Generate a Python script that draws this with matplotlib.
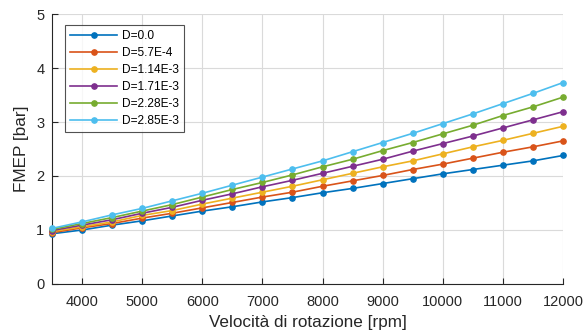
import matplotlib
matplotlib.use("Agg")
import matplotlib.pyplot as plt
import numpy as np

plt.rcParams['font.family'] = ['Liberation Sans', 'DejaVu Sans']

rpm = [3500, 4000, 4500, 5000, 5500, 6000, 6500, 7000, 7500, 8000,
       8500, 9000, 9500, 10000, 10500, 11000, 11500, 12000]

labels = ["D=0.0", "D=5.7E-4", "D=1.14E-3", "D=1.71E-3", "D=2.28E-3", "D=2.85E-3"]

fmep_d0 = [0.93, 1.00, 1.09, 1.17, 1.26, 1.35, 1.43, 1.52, 1.60, 1.69,
           1.77, 1.86, 1.95, 2.04, 2.12, 2.20, 2.28, 2.38]
fmep_d1 = [0.95, 1.04, 1.12, 1.22, 1.31, 1.41, 1.51, 1.61, 1.70, 1.81,
           1.91, 2.01, 2.12, 2.22, 2.33, 2.44, 2.54, 2.65]
fmep_d2 = [0.97, 1.06, 1.15, 1.27, 1.36, 1.48, 1.59, 1.70, 1.81, 1.93,
           2.05, 2.17, 2.28, 2.41, 2.54, 2.66, 2.79, 2.92]
fmep_d3 = [0.99, 1.09, 1.19, 1.31, 1.42, 1.55, 1.67, 1.80, 1.92, 2.05,
           2.18, 2.31, 2.46, 2.60, 2.74, 2.89, 3.04, 3.19]
fmep_d4 = [1.01, 1.12, 1.23, 1.35, 1.47, 1.61, 1.75, 1.88, 2.02, 2.17,
           2.31, 2.47, 2.62, 2.78, 2.94, 3.12, 3.28, 3.46]
fmep_d5 = [1.03, 1.15, 1.28, 1.40, 1.54, 1.68, 1.83, 1.98, 2.13, 2.28,
           2.45, 2.62, 2.79, 2.97, 3.15, 3.34, 3.53, 3.73]

series = [fmep_d0, fmep_d1, fmep_d2, fmep_d3, fmep_d4, fmep_d5]
colors = ["#0072BD", "#D95319", "#EDB120", "#7E2F8E", "#77AC30", "#4DBEEE"]

xticks = [4000, 5000, 6000, 7000, 8000, 9000, 10000, 11000, 12000]
yticks = [0, 1, 2, 3, 4, 5]

fig = plt.figure(figsize=(5.83, 3.36), dpi=100)
ax = fig.add_axes([0.0892, 0.1548, 0.8765, 0.8035])

for vals, lab, col in zip(series, labels, colors):
    ax.plot(rpm, vals, color=col, lw=1.2, marker='o', ms=3.8,
            label=lab, clip_on=False, zorder=3)

ax.set_xlim(3500, 12000)
ax.set_ylim(0, 5)
ax.set_xticks(xticks)
ax.set_yticks(yticks)
ax.tick_params(direction='in', length=4, width=0.8, colors='#262626',
               labelsize=10.5, labelcolor='#262626')
ax.tick_params(axis='x', pad=8)
ax.tick_params(axis='y', pad=5.5)
ax.grid(True, color='#dadada', lw=0.8)
ax.set_axisbelow(True)
for s in ['top', 'right']:
    ax.spines[s].set_visible(False)
for s in ['left', 'bottom']:
    ax.spines[s].set_color('#262626')
    ax.spines[s].set_linewidth(0.8)

ax.set_xlabel("Velocità di rotazione [rpm]", fontsize=12.3, color='#262626',
              va='center')
ax.set_ylabel("FMEP [bar]", fontsize=12.3, color='#262626', va='center')
ax.xaxis.set_label_coords(0.5, -0.1433)
ax.yaxis.set_label_coords(-0.0593, 0.5)

leg = ax.legend(loc='upper left', bbox_to_anchor=(0.026, 0.959), fontsize=8.6,
                frameon=True, fancybox=False, edgecolor='#262626',
                handlelength=3.9, handletextpad=0.45, borderpad=0.42,
                labelspacing=0.42, borderaxespad=0)
leg.get_frame().set_linewidth(0.8)

fig.savefig("out.png", dpi=100)
